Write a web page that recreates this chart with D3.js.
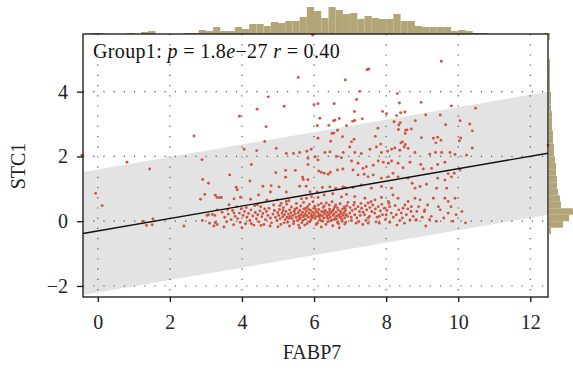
<!DOCTYPE html>
<html>
<head>
<meta charset="utf-8">
<script src="https://cdn.jsdelivr.net/npm/d3@7"></script>
<style>
  body { margin: 0; background: #fff; }
  text { font-family: "Liberation Serif", "Times New Roman", serif; }
</style>
</head>
<body>
<div id="chart"></div>
<script>
// axis ticks
const xTicks = [0, 2, 4, 6, 8, 10, 12];
const yTicks = [-2, 0, 2, 4];

// fitted line and its band
const regIntercept = -0.30;
const regSlope = 0.192;
const bandHalf = 1.9;

// marginal histograms (bin width 0.2)
const binWidth = 0.2;
const topHistStart = -0.2;
const topHist = [1, 1, 0, 0, 0, 1, 0, 2, 3, 0, 0, 0, 0, 1, 1, 4, 3, 7, 3, 3, 7, 5, 10, 10, 8, 12, 11, 13, 13, 17,
  27, 23, 16, 27, 24, 20, 21, 15, 18, 16, 15, 15, 20, 13, 13, 8, 7, 7, 7, 7, 3, 4, 3, 1, 1,
  0, 0, 0, 0, 0, 0, 0, 0, 1];
const rightHistStart = -0.4;
const rightHist = [2, 14, 20, 24, 12, 11, 9, 8, 8, 7, 7, 6, 5, 5, 4, 4, 3, 3, 3, 2, 2, 2, 1, 1, 1, 1, 1, 0, 0, 0, 1];

// FABP7 vs STC1 samples
const samples = [
  [-0.44, 2.04], [-0.06, 0.86], [0.12, 0.48], [0.81, 1.82], [1.44, 1.61], [1.25, 0.0], [1.53, 0.07], [1.35, -0.13],
  [1.51, -0.11], [2.39, -0.15], [2.67, 2.63], [2.89, 1.90], [2.91, 1.29], [3.07, 1.17], [2.97, 0.83], [2.85, 0.68],
  [3.26, 0.80], [3.31, 0.73], [3.31, 0.35], [3.03, 0.18], [3.07, 0.2], [3.18, 0.21], [3.25, 0.18], [2.9, 0.02],
  [3.1, -0.06], [3.26, -0.04], [3.22, -0.15], [3.31, -0.1], [5.96, 5.75], [12.5, 2.35],
  [5.56, 4.44], [6.87, 4.36], [4.73, 3.84], [5.17, 3.55], [4.42, 3.46], [3.93, 3.24], [4.67, 2.92], [4.63, 2.46],
  [6.0, 3.6], [6.11, 3.63], [6.56, 3.63], [6.16, 3.18], [6.54, 3.10], [6.58, 3.12], [6.7, 3.17], [6.09, 2.95],
  [6.41, 2.96], [6.65, 2.81], [6.5, 2.71], [6.55, 2.72], [6.79, 2.61], [6.11, 2.56], [6.46, 2.47], [6.9, 2.95],
  [9.53, 4.94], [7.47, 4.68], [7.52, 4.7], [7.27, 4.01], [8.31, 3.94], [7.18, 3.76], [8.37, 3.65], [8.97, 3.67],
  [7.12, 3.39], [7.9, 3.39], [8.01, 3.32], [8.4, 3.35], [8.52, 3.37], [9.81, 3.56], [10.48, 3.49], [9.5, 3.28],
  [9.1, 3.28], [8.29, 3.26], [7.07, 3.09], [7.13, 3.11], [7.34, 3.16], [8.22, 3.07], [8.39, 3.04], [8.81, 3.10],
  [10.05, 3.10], [8.35, 2.97], [9.65, 2.98], [10.32, 3.0], [7.77, 2.87], [8.34, 2.83], [8.54, 2.81], [8.58, 2.82],
  [8.7, 2.85], [8.53, 2.71], [10.39, 2.79], [7.7, 2.62], [8.98, 2.58], [9.31, 2.56], [9.43, 2.59], [9.52, 2.5],
  [10.07, 2.57], [10.03, 2.48], [7.04, 2.45], [7.11, 2.53], [7.85, 2.38], [8.41, 2.42], [8.45, 2.45], [8.53, 2.37],
  [9.38, 2.42],
  [4.06, 2.22], [4.41, 2.18], [4.95, 2.25], [5.23, 2.09], [5.43, 2.09], [5.6, 2.12], [5.8, 2.16], [5.92, 2.22],
  [6.03, 1.99], [6.3, 2.12], [6.44, 2.14], [6.62, 2.0], [6.76, 1.96], [6.81, 2.12], [6.11, 1.89], [5.83, 1.94],
  [5.83, 1.75], [6.13, 1.55], [6.2, 1.51], [6.28, 1.48], [6.39, 1.45], [6.45, 1.51], [6.65, 1.58], [6.8, 1.61],
  [4.26, 1.75], [3.66, 1.43], [4.22, 1.24], [4.94, 1.5], [5.21, 1.57], [5.48, 1.57], [5.21, 1.36], [5.68, 1.36],
  [5.7, 1.29], [5.83, 1.28], [3.84, 1.05], [3.87, 0.97], [4.58, 1.08], [4.81, 1.1], [5.03, 1.06], [5.6, 1.08],
  [5.78, 1.08], [5.89, 0.91], [6.09, 0.9], [6.23, 1.04], [6.44, 1.06], [6.6, 1.02], [6.8, 1.06], [6.87, 1.04],
  [4.46, 0.81], [4.79, 0.9], [5.23, 0.9], [3.96, 0.74], [4.24, 0.68], [4.69, 0.65], [4.98, 0.66], [3.78, 0.69],
  [3.38, 0.73], [3.43, 0.73], [3.64, 0.51], [4.43, 0.51], [5.09, 0.55], [5.23, 0.61], [5.3, 0.63], [5.65, 0.69],
  [5.79, 0.71], [5.93, 0.76], [6.11, 0.73], [6.28, 0.81], [6.52, 0.85], [6.76, 0.75], [6.9, 0.83],
  [3.45, 0.28], [3.52, 0.12], [3.58, -0.02], [3.62, 0.22], [3.7, 0.05], [3.74, 0.33], [3.78, 0.25], [3.81, 0.15],
  [3.77, -0.11], [3.88, 0.08], [3.93, 0.25], [3.95, -0.03], [3.98, 0.38],
  [4.03, 0.18], [4.07, 0.3], [4.1, -0.08], [4.14, 0.12], [4.18, 0.24], [4.22, 0.02], [4.25, 0.35], [4.3, 0.16],
  [4.33, -0.12], [4.37, 0.27], [4.4, 0.08], [4.44, 0.2], [4.47, -0.02], [4.5, 0.32], [4.55, 0.14], [4.58, 0.24],
  [4.61, -0.1], [4.65, 0.05], [4.68, 0.3], [4.72, 0.18], [4.75, 0.4], [4.79, 0.1], [4.82, -0.05], [4.86, 0.22],
  [4.9, 0.33], [4.93, 0.12], [4.97, 0.02], [4.99, 0.27],
  [5.02, 0.18], [5.04, 0.36], [5.06, 0.08], [5.08, -0.1], [5.11, 0.25], [5.13, 0.14], [5.15, 0.42], [5.18, 0.2],
  [5.2, 0.05], [5.22, 0.3], [5.25, 0.12], [5.27, -0.03], [5.29, 0.22], [5.32, 0.35], [5.34, 0.15], [5.36, 0.26],
  [5.39, 0.08], [5.41, 0.18], [5.43, -0.08], [5.45, 0.3], [5.48, 0.22], [5.5, 0.12], [5.52, 0.4], [5.54, 0.02],
  [5.56, 0.26], [5.58, 0.16], [5.6, 0.33], [5.62, 0.1], [5.64, 0.2], [5.66, -0.05], [5.68, 0.28], [5.7, 0.14],
  [5.72, 0.38], [5.74, 0.22], [5.76, 0.06], [5.78, 0.3], [5.8, 0.18], [5.82, 0.45], [5.84, 0.12], [5.86, 0.25],
  [5.88, -0.02], [5.9, 0.34], [5.92, 0.2], [5.94, 0.1], [5.96, 0.28], [5.98, 0.16], [5.99, 0.4],
  [6.01, 0.22], [6.03, 0.08], [6.05, 0.3], [6.07, 0.15], [6.09, -0.06], [6.11, 0.26], [6.13, 0.36], [6.15, 0.12],
  [6.17, 0.2], [6.19, 0.02], [6.21, 0.3], [6.23, 0.17], [6.25, 0.42], [6.27, 0.1], [6.29, 0.24], [6.31, 0.33],
  [6.33, -0.1], [6.35, 0.18], [6.37, 0.27], [6.39, 0.08], [6.41, 0.2], [6.43, 0.37], [6.45, 0.13], [6.47, 0.25],
  [6.49, 0.04], [6.51, 0.31], [6.53, 0.18], [6.55, 0.22], [6.57, 0.44], [6.59, 0.1], [6.61, 0.28], [6.63, 0.16],
  [6.65, -0.04], [6.67, 0.35], [6.69, 0.2], [6.71, 0.12], [6.73, 0.3], [6.75, 0.24], [6.77, 0.06], [6.79, 0.38],
  [6.81, 0.18], [6.83, 0.27], [6.85, 0.1], [6.87, 0.33], [6.89, 0.2], [6.91, 0.48], [6.93, 0.15],
  [4.26, -0.08], [4.53, -0.13], [5.32, -0.15], [5.74, -0.12], [6.52, -0.14], [6.85, -0.09],
  [6.99, 2.29], [7.13, 2.12], [7.31, 2.09], [7.55, 2.22], [7.73, 2.29], [7.87, 2.12], [8.04, 2.16], [8.15, 2.22],
  [8.24, 2.26], [8.38, 2.19], [8.5, 2.29], [8.61, 2.25], [8.8, 2.12], [9.21, 2.07], [9.37, 2.12], [9.54, 2.12],
  [9.77, 2.12], [9.91, 2.06], [10.23, 2.04], [10.39, 2.26],
  [7.04, 1.86], [7.22, 1.79], [7.36, 1.63], [7.45, 1.68], [7.64, 1.73], [7.78, 1.86], [7.92, 1.82], [8.06, 1.79],
  [8.15, 1.86], [8.33, 1.79], [8.47, 1.65], [8.66, 1.82], [8.96, 1.75], [9.03, 1.61], [9.26, 1.63], [9.43, 1.75],
  [9.63, 1.82], [9.72, 1.47], [9.89, 1.48], [10.05, 1.58],
  [7.08, 1.58], [7.22, 1.43], [7.39, 1.45], [7.5, 1.37], [7.64, 1.43], [7.87, 1.33], [8.06, 1.37], [8.19, 1.48],
  [8.33, 1.37], [8.61, 1.33], [8.72, 1.17], [8.8, 1.02], [8.94, 1.07], [9.12, 1.14], [9.4, 1.02], [9.43, 1.33],
  [9.63, 1.27], [9.81, 1.37], [9.68, 1.02], [7.08, 1.04], [7.31, 1.12], [7.59, 1.02], [7.87, 1.07], [8.15, 1.02],
  [7.13, 0.76], [7.41, 0.71], [7.5, 0.56], [7.69, 0.66], [7.87, 0.73], [8.06, 0.61], [8.19, 0.81], [8.33, 0.71],
  [8.47, 0.4], [8.61, 0.61], [8.7, 0.45], [8.8, 0.71], [8.94, 0.66], [9.07, 0.35], [9.31, 0.71], [9.63, 0.71],
  [9.72, 0.61], [9.91, 0.71], [9.72, 0.25],
  [6.99, 0.25], [7.13, 0.2], [7.26, 0.3], [7.4, 0.2], [7.54, 0.15], [7.68, 0.25], [7.81, 0.15], [8.0, 0.2],
  [8.14, 0.25], [8.28, 0.2], [8.42, 0.25], [8.56, 0.2], [8.69, 0.3], [8.83, 0.05], [9.06, 0.3], [9.25, 0.15],
  [9.39, 0.0], [8.83, 0.03], [9.94, 0.2], [7.17, -0.06], [7.5, -0.06], [7.81, -0.06], [8.1, -0.03], [8.51, -0.06],
  [7.0, 0.42], [7.03, 0.12], [7.06, 0.33], [7.1, 0.5], [7.15, 0.38], [7.19, 0.1], [7.22, 0.45], [7.28, 0.18],
  [7.32, 0.4], [7.36, 0.28], [7.42, 0.48], [7.46, 0.35], [7.5, 0.1], [7.55, 0.42], [7.6, 0.3], [7.63, 0.5],
  [7.7, 0.38], [7.75, 0.12], [7.78, 0.45], [7.84, 0.32], [7.9, 0.2], [7.95, 0.4], [8.02, 0.33], [8.1, 0.45],
  [8.2, 0.12], [8.35, 0.35], [8.45, 0.1], [8.6, 0.38], [8.75, 0.15], [8.9, 0.45], [9.0, 0.12], [9.15, 0.5],
  [9.5, 0.35], [9.8, 0.45], [10.1, 0.3], [9.6, 0.1], [10.2, -0.05], [9.85, 0.0],
  [4.52, 0.45], [4.63, 0.38], [4.88, 0.5], [5.05, 0.48], [5.17, -0.05], [5.24, 0.52], [5.37, 0.44], [5.44, 0.0],
  [5.51, 0.55], [5.57, -0.12], [5.63, 0.47], [5.69, 0.02], [5.71, 0.58], [5.77, 0.4], [5.81, -0.07], [5.87, 0.52],
  [5.91, 0.03], [5.97, 0.6], [6.02, 0.46], [6.06, -0.1], [6.12, 0.5], [6.16, 0.04], [6.2, 0.55], [6.24, 0.0],
  [6.28, 0.47], [6.34, 0.56], [6.38, -0.02], [6.42, 0.5], [6.46, 0.01], [6.5, 0.6], [6.56, 0.05], [6.6, 0.5],
  [6.64, 0.42], [6.68, -0.08], [6.72, 0.54], [6.78, 0.0], [6.84, 0.45], [6.88, -0.03], [6.94, 0.58], [7.04, 0.02],
  [7.12, 0.58], [7.24, -0.01], [7.3, 0.55], [7.44, 0.02], [7.58, 0.6], [7.72, -0.02], [7.88, 0.52], [7.98, 0.05],
  [8.08, 0.55], [8.25, 0.48], [8.38, 0.02], [8.52, 0.5], [8.66, 0.04], [8.85, 0.3], [9.2, 0.05], [9.45, 0.45],
  [5.14, 0.33], [5.31, 0.09], [5.47, 0.37], [5.59, 0.07], [5.73, 0.17], [5.85, 0.36], [5.93, 0.14], [6.04, 0.38],
  [6.14, 0.19], [6.26, 0.29], [6.36, 0.12], [6.44, 0.29], [6.54, 0.36], [6.62, 0.06], [6.74, 0.14], [6.86, 0.4],
  [3.6, 0.36], [3.85, 0.45], [4.12, 0.42], [4.35, 0.48], [4.78, -0.15], [5.0, -0.17], [5.6, -0.2], [6.2, -0.18],
  [6.7, -0.2], [7.35, -0.1], [8.3, -0.12], [9.1, -0.15], [4.0, -0.2], [3.5, -0.18]
];

const width = 573, height = 370;
const plot = {left: 83, right: 548, top: 34, bottom: 297};

const svg = d3.select('#chart').append('svg')
    .attr('width', width)
    .attr('height', height);

let x = d3.scaleLinear().domain([-0.41, 12.49]).range([plot.left, plot.right]);
let y = d3.scaleLinear().domain([-2.34, 5.78]).range([plot.bottom, plot.top]);

svg.append('clipPath').attr('id', 'clip')
  .append('rect')
    .attr('x', plot.left).attr('y', plot.top)
    .attr('width', plot.right - plot.left).attr('height', plot.bottom - plot.top);

// band around the fitted line
let xs = x.domain();
let band = d3.area()
    .x(function(d) { return x(d); })
    .y0(function(d) { return y(regIntercept + regSlope * d - bandHalf); })
    .y1(function(d) { return y(regIntercept + regSlope * d + bandHalf); });

svg.append('path')
    .datum(xs)
    .attr('clip-path', 'url(#clip)')
    .attr('fill', '#e3e3e3')
    .attr('d', band);

// dotted grid
let grid = svg.append('g').attr('stroke', '#555').attr('stroke-width', 1.2).attr('stroke-dasharray', '1.2,9');
grid.selectAll('.gx').data(xTicks).enter().append('line')
    .attr('x1', function(d) { return x(d); }).attr('x2', function(d) { return x(d); })
    .attr('y1', plot.top).attr('y2', plot.bottom);
grid.selectAll('.gy').data(yTicks).enter().append('line')
    .attr('x1', plot.left).attr('x2', plot.right)
    .attr('y1', function(d) { return y(d); }).attr('y2', function(d) { return y(d); });

// points
svg.append('g')
  .selectAll('circle')
  .data(samples)
  .enter().append('circle')
    .attr('cx', function(d) { return Math.min(x(d[0]), plot.right); })
    .attr('cy', function(d) { return Math.max(y(d[1]), plot.top); })
    .attr('r', 1.45)
    .attr('fill', '#d0553f');

// fitted line
let fit = d3.line()
    .x(function(d) { return x(d); })
    .y(function(d) { return y(regIntercept + regSlope * d); });

svg.append('path')
    .datum(xs)
    .attr('fill', 'none')
    .attr('stroke', '#111')
    .attr('stroke-width', 1.4)
    .attr('d', fit);

// top histogram
let hTop = d3.scaleLinear().domain([0, d3.max(topHist)]).range([0, 27]);
svg.append('g')
  .selectAll('rect')
  .data(topHist)
  .enter().append('rect')
    .attr('x', function(d, i) { return Math.max(plot.left, x(topHistStart + i * binWidth)); })
    .attr('width', function(d, i) {
      let a = Math.max(plot.left, x(topHistStart + i * binWidth));
      let b = Math.min(plot.right + 2, x(topHistStart + (i + 1) * binWidth));
      return Math.max(0, b - a);
    })
    .attr('y', function(d) { return plot.top - hTop(d); })
    .attr('height', function(d) { return hTop(d); })
    .attr('fill', '#b2a679');

// right histogram
let hRight = d3.scaleLinear().domain([0, d3.max(rightHist)]).range([0, 24]);
svg.append('g')
  .selectAll('rect')
  .data(rightHist)
  .enter().append('rect')
    .attr('x', plot.right + 1)
    .attr('y', function(d, i) { return Math.max(plot.top - 1, y(rightHistStart + (i + 1) * binWidth)); })
    .attr('height', function(d, i) {
      let a = Math.max(plot.top - 1, y(rightHistStart + (i + 1) * binWidth));
      let b = y(rightHistStart + i * binWidth);
      return Math.max(0, b - a);
    })
    .attr('width', function(d) { return hRight(d); })
    .attr('fill', '#b2a679');

// panel border
svg.append('rect')
    .attr('x', plot.left).attr('y', plot.top)
    .attr('width', plot.right - plot.left).attr('height', plot.bottom - plot.top)
    .attr('fill', 'none')
    .attr('stroke', '#111')
    .attr('stroke-width', 1.3);

// axes
let xAxis = svg.append('g')
    .attr('transform', 'translate(0,' + plot.bottom + ')')
    .call(d3.axisBottom(x).tickValues(xTicks).tickSize(5).tickPadding(13).tickSizeOuter(0));
let yAxis = svg.append('g')
    .attr('transform', 'translate(' + plot.left + ',0)')
    .call(d3.axisLeft(y).tickValues(yTicks).tickSize(6).tickPadding(9).tickSizeOuter(0)
      .tickFormat(function(d) { return d < 0 ? '\u2212' + Math.abs(d) : d; }));

[xAxis, yAxis].forEach(function(a) {
  a.select('.domain').remove();
  a.selectAll('line').attr('stroke', '#111').attr('stroke-width', 1.3);
  a.selectAll('text').attr('fill', '#222').style('font-size', '20px')
    .style('font-family', '"Liberation Serif", serif');
});

// titles
svg.append('text')
    .attr('x', 312).attr('y', 359)
    .attr('text-anchor', 'middle')
    .attr('fill', '#222')
    .style('font-size', '20px')
    .text('FABP7');

svg.append('text')
    .attr('transform', 'translate(25,166) rotate(-90)')
    .attr('text-anchor', 'middle')
    .attr('fill', '#222')
    .style('font-size', '20px')
    .text('STC1');

// annotation
let note = svg.append('text')
    .attr('x', 93).attr('y', 58)
    .attr('fill', '#111')
    .style('font-size', '20px')
    .style('letter-spacing', '0.35px');
note.append('tspan').text('Group1: ');
note.append('tspan').style('font-style', 'italic').text('p');
note.append('tspan').text(' = 1.8');
note.append('tspan').style('font-style', 'italic').text('e');
note.append('tspan').text('\u221227 ');
note.append('tspan').style('font-style', 'italic').text('r');
note.append('tspan').text(' = 0.40');
</script>
</body>
</html>
